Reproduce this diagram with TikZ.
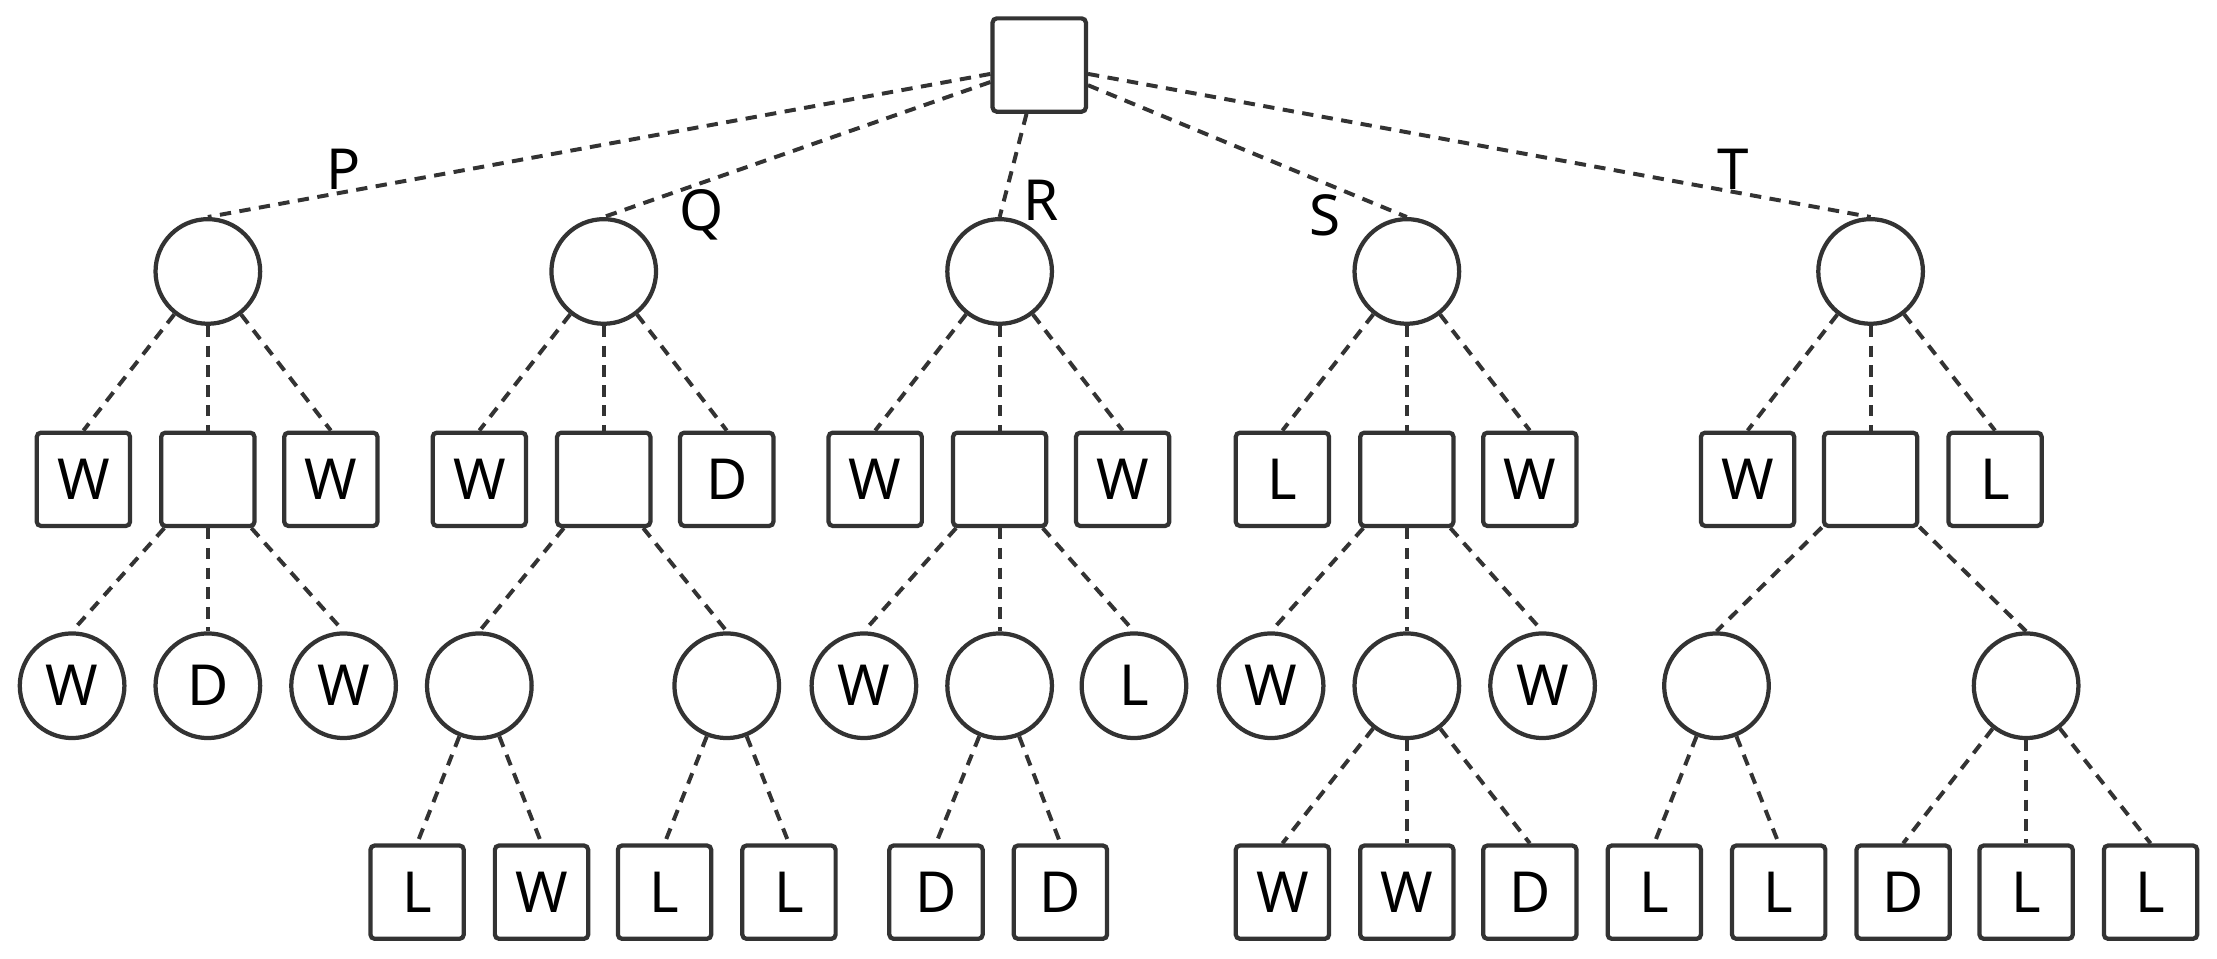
\documentclass[tikz,border=0pt]{standalone}
\usepackage{fontspec}
\setmainfont{Noto Sans}
\begin{document}
\begin{tikzpicture}[x=0.5pt,y=-0.5pt,
  sq/.style={draw=black!80,line width=1.5pt,rounded corners=1.5pt,minimum size=33pt,inner sep=0pt,font=\fontsize{20}{20}\selectfont},
  ci/.style={draw=black!80,line width=1.5pt,circle,minimum size=37pt,inner sep=0pt,font=\fontsize{20}{20}\selectfont},
  ed/.style={draw=black!80,line width=1.4pt,dash pattern=on 4pt off 3pt},
  lb/.style={font=\fontsize{20}{20}\selectfont\bfseries}]
\useasboundingbox (0,0) rectangle (1568,678);
\node[sq] (r) at (735,46) {};
% level 1
\node[ci] (p) at (147,192) {};
\node[ci] (q) at (427,192) {};
\node[ci] (rr) at (707,192) {};
\node[ci] (s) at (995,192) {};
\node[ci] (t) at (1323,192) {};
\foreach \c in {p,q,rr,s,t} \draw[ed] (r) -- (\c.north);
\node[lb] at (243,120) {P};
\node[lb] at (496,152) {Q};
\node[lb] at (736,142) {R};
\node[lb] at (937,152) {S};
\node[lb] at (1226,120) {T};
% level 2
\node[sq] (p1) at (59,339) {W};  \node[sq] (p2) at (147,339) {}; \node[sq] (p3) at (234,339) {W};
\node[sq] (q1) at (339,339) {W}; \node[sq] (q2) at (427,339) {}; \node[sq] (q3) at (514,339) {D};
\node[sq] (r1) at (619,339) {W}; \node[sq] (r2) at (707,339) {}; \node[sq] (r3) at (794,339) {W};
\node[sq] (s1) at (907,339) {L}; \node[sq] (s2) at (995,339) {}; \node[sq] (s3) at (1082,339) {W};
\node[sq] (t1) at (1236,339) {W}; \node[sq] (t2) at (1323,339) {}; \node[sq] (t3) at (1411,339) {L};
\foreach \a in {p,q,s,t} \foreach \i in {1,2,3} \draw[ed] (\a) -- (\a\i.north);
\foreach \i in {1,2,3} \draw[ed] (rr) -- (r\i.north);
% level 3
\node[ci] (p21) at (51,485) {W}; \node[ci] (p22) at (147,485) {D}; \node[ci] (p23) at (243,485) {W};
\node[ci] (q21) at (339,485) {}; \node[ci] (q22) at (514,485) {};
\node[ci] (r21) at (611,485) {W}; \node[ci] (r22) at (707,485) {}; \node[ci] (r23) at (802,485) {L};
\node[ci] (s21) at (899,485) {W}; \node[ci] (s22) at (995,485) {}; \node[ci] (s23) at (1091,485) {W};
\node[ci] (t21) at (1214,485) {}; \node[ci] (t22) at (1433,485) {};
\foreach \a in {p,r,s} \foreach \i in {1,2,3} \draw[ed] (\a2) -- (\a2\i.north);
\foreach \a in {q,t} \foreach \i in {1,2} \draw[ed] (\a2) -- (\a2\i.north);
% level 4
\node[sq] (qa) at (295,631) {L}; \node[sq] (qb) at (383,631) {W};
\node[sq] (qc) at (470,631) {L}; \node[sq] (qd) at (558,631) {L};
\node[sq] (ra) at (662,631) {D}; \node[sq] (rb) at (750,631) {D};
\node[sq] (sa) at (907,631) {W}; \node[sq] (sb) at (995,631) {W}; \node[sq] (sc) at (1082,631) {D};
\node[sq] (ta) at (1170,631) {L}; \node[sq] (tb) at (1258,631) {L};
\node[sq] (tc) at (1346,631) {D}; \node[sq] (td) at (1433,631) {L}; \node[sq] (te) at (1521,631) {L};
\draw[ed] (q21) -- (qa.north); \draw[ed] (q21) -- (qb.north);
\draw[ed] (q22) -- (qc.north); \draw[ed] (q22) -- (qd.north);
\draw[ed] (r22) -- (ra.north); \draw[ed] (r22) -- (rb.north);
\draw[ed] (s22) -- (sa.north); \draw[ed] (s22) -- (sb.north); \draw[ed] (s22) -- (sc.north);
\draw[ed] (t21) -- (ta.north); \draw[ed] (t21) -- (tb.north);
\draw[ed] (t22) -- (tc.north); \draw[ed] (t22) -- (td.north); \draw[ed] (t22) -- (te.north);
\end{tikzpicture}
\end{document}
